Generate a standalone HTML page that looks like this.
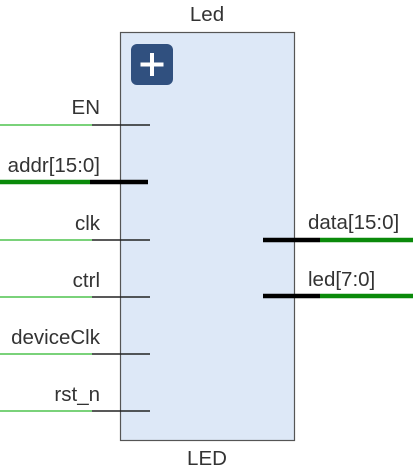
<!DOCTYPE html>
<html><head><style>
body{margin:0;background:#fff;}
svg{display:block;font-family:"Liberation Sans",sans-serif;}
</style></head><body>
<svg width="413" height="470" viewBox="0 0 413 470">
<rect x="120.5" y="32.5" width="174" height="408" fill="#dde8f7" stroke="#555" stroke-width="1.2"/>
<rect x="131" y="44" width="42" height="41" rx="6" fill="#30507f"/>
<path d="M152 53v23M140.5 64.5h23" stroke="#fff" stroke-width="4"/>
<g font-size="20.5" fill="#333" text-anchor="middle">
<text x="207" y="21">Led</text>
<text x="207" y="465">LED</text>
</g>
<g stroke-width="1.5">
<line x1="0" y1="125" x2="92" y2="125" stroke="#4fc34f"/><line x1="92" y1="125" x2="150" y2="125" stroke="#222"/>
<line x1="0" y1="240" x2="92" y2="240" stroke="#4fc34f"/><line x1="92" y1="240" x2="150" y2="240" stroke="#222"/>
<line x1="0" y1="297" x2="92" y2="297" stroke="#4fc34f"/><line x1="92" y1="297" x2="150" y2="297" stroke="#222"/>
<line x1="0" y1="354" x2="92" y2="354" stroke="#4fc34f"/><line x1="92" y1="354" x2="150" y2="354" stroke="#222"/>
<line x1="0" y1="411" x2="92" y2="411" stroke="#4fc34f"/><line x1="92" y1="411" x2="150" y2="411" stroke="#222"/>
</g>
<g stroke-width="4.5">
<line x1="0" y1="182" x2="90" y2="182" stroke="#0a8a0a"/><line x1="90" y1="182" x2="148" y2="182" stroke="#000"/>
<line x1="263" y1="240" x2="320" y2="240" stroke="#000"/><line x1="320" y1="240" x2="413" y2="240" stroke="#0a8a0a"/>
<line x1="263" y1="296" x2="320" y2="296" stroke="#000"/><line x1="320" y1="296" x2="413" y2="296" stroke="#0a8a0a"/>
</g>
<g font-size="20.5" fill="#333" text-anchor="end">
<text x="100" y="114">EN</text>
<text x="100" y="172">addr[15:0]</text>
<text x="100" y="230">clk</text>
<text x="100" y="287">ctrl</text>
<text x="100" y="344">deviceClk</text>
<text x="100" y="401">rst_n</text>
</g>
<g font-size="20.5" fill="#333">
<text x="308" y="229">data[15:0]</text>
<text x="308" y="286">led[7:0]</text>
</g>
</svg>
</body></html>
